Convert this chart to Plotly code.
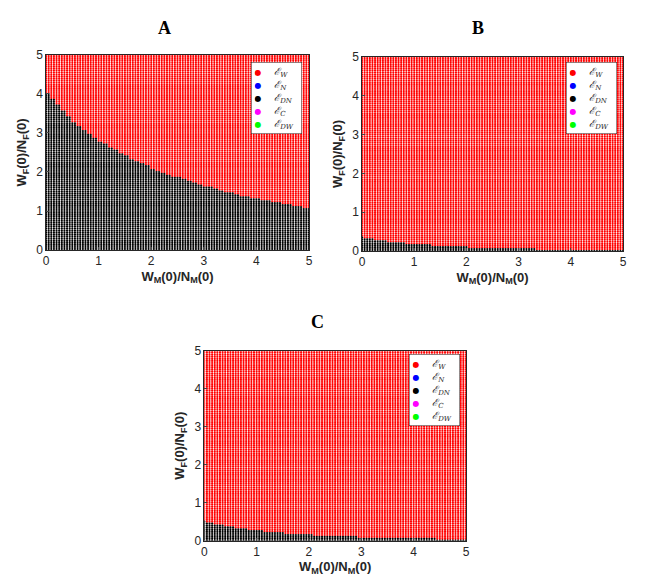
import numpy as np
import plotly.graph_objects as go

# sweep grid of initial ratios (both axes), step 0.05
grid = np.round(np.linspace(0, 5, 101), 2)

# panel A: upper edge of the black region, read every 0.1
a_break_x = [0.0, 0.1, 0.2, 0.3, 0.4, 0.5, 0.6, 0.7, 0.8, 0.9,
             1.0, 1.1, 1.2, 1.3, 1.4, 1.5, 1.6, 1.7, 1.8, 1.9,
             2.0, 2.1, 2.2, 2.3, 2.4, 2.5, 2.6, 2.7, 2.8, 2.9,
             3.0, 3.1, 3.2, 3.3, 3.4, 3.5, 3.6, 3.7, 3.8, 3.9,
             4.0, 4.1, 4.2, 4.3, 4.4, 4.5, 4.6, 4.7, 4.8, 4.9, 5.0]
a_top = [4.00, 3.85, 3.70, 3.55, 3.40, 3.25, 3.15, 3.05, 2.95, 2.85,
         2.75, 2.70, 2.60, 2.55, 2.45, 2.40, 2.30, 2.25, 2.20, 2.15,
         2.05, 2.00, 1.95, 1.90, 1.85, 1.85, 1.80, 1.75, 1.70, 1.65,
         1.60, 1.60, 1.55, 1.50, 1.45, 1.45, 1.40, 1.35, 1.35, 1.30,
         1.30, 1.25, 1.25, 1.20, 1.20, 1.15, 1.15, 1.10, 1.10, 1.05, 1.05]

# panel B: step edges
b_break_x = [0.0, 0.05, 0.25, 0.5, 0.85, 1.35, 2.05, 3.35]
b_top = [0.35, 0.30, 0.25, 0.20, 0.15, 0.10, 0.05, 0.0]

# panel C: step edges
c_break_x = [0.0, 0.05, 0.2, 0.4, 0.6, 0.85, 1.15, 1.55, 2.1, 2.95, 4.45]
c_top = [0.50, 0.45, 0.40, 0.35, 0.30, 0.25, 0.20, 0.15, 0.10, 0.05, 0.0]

legend_names = ["ℰ<sub>W</sub>", "ℰ<sub>N</sub>", "ℰ<sub>DN</sub>", "ℰ<sub>C</sub>", "ℰ<sub>DW</sub>"]
legend_colors = ["#ff0000", "#0000ff", "#000000", "#ff00ff", "#00ff00"]


def split_points(break_x, top):
    bx = np.array(break_x)
    bt = np.array(top)
    X, Y = np.meshgrid(grid, grid)
    idx = np.searchsorted(bx, X + 1e-9, side="right") - 1
    black = Y <= bt[idx] + 1e-9
    return (X[~black], Y[~black]), (X[black], Y[black])


fig = go.Figure()
panels = [(a_break_x, a_top, "x", "y"),
          (b_break_x, b_top, "x2", "y2"),
          (c_break_x, c_top, "x3", "y3")]

for bx, bt, xa, ya in panels:
    (rx, ry), (kx, ky) = split_points(bx, bt)
    fig.add_trace(go.Scatter(x=rx, y=ry, mode="markers", xaxis=xa, yaxis=ya,
                             marker=dict(color="#ff0000", size=2.2, line=dict(width=0)),
                             showlegend=False, hoverinfo="skip"))
    fig.add_trace(go.Scatter(x=kx, y=ky, mode="markers", xaxis=xa, yaxis=ya,
                             marker=dict(color="#000000", size=2.2, line=dict(width=0)),
                             showlegend=False, hoverinfo="skip"))

tickfont = dict(family="Liberation Sans", size=12, color="#262626")
titlefont = dict(family="Liberation Sans", size=13, color="#262626")


def xax(dom, anchor):
    return dict(domain=dom, anchor=anchor, range=[0, 5], tickvals=[0, 1, 2, 3, 4, 5],
                ticks="inside", ticklen=3, showgrid=False, zeroline=False, automargin=False,
                showline=True, mirror=True, linecolor="#262626", linewidth=0.5,
                tickfont=tickfont,
                title=dict(text="<b>W<sub>M</sub>(0)/N<sub>M</sub>(0)</b>", font=titlefont, standoff=4))


def yax(dom, anchor):
    return dict(domain=dom, anchor=anchor, range=[0, 5], tickvals=[0, 1, 2, 3, 4, 5],
                ticks="inside", ticklen=3, showgrid=False, zeroline=False, automargin=False,
                showline=True, mirror=True, linecolor="#262626", linewidth=0.5,
                tickfont=tickfont,
                title=dict(text="<b>W<sub>F</sub>(0)/N<sub>F</sub>(0)</b>", font=titlefont, standoff=6))


fig.update_layout(
    width=658, height=585,
    margin=dict(l=0, r=0, t=0, b=0, autoexpand=False),
    paper_bgcolor="white", plot_bgcolor="white",
    showlegend=False,
    xaxis=xax([0.0578, 0.4574], "y"), yaxis=yax([0.5863, 0.9197], "x"),
    xaxis2=xax([0.5380, 0.9347], "y2"), yaxis2=yax([0.5846, 0.9162], "x2"),
    xaxis3=xax([0.2983, 0.6960], "y3"), yaxis3=yax([0.0894, 0.4142], "x3"),
)

for txt, x, y in [("A", 0.2386, 0.9658), ("B", 0.7143, 0.9658), ("C", 0.4711, 0.4632)]:
    fig.add_annotation(text="<b>%s</b>" % txt, x=x, y=y, xref="paper", yref="paper",
                       xanchor="center", yanchor="middle", showarrow=False,
                       font=dict(family="Liberation Serif", size=18, color="black"))

# legend boxes (colour key for the regimes)
legend_text = "<br>".join(
    "<span style='color:%s;font-size:8px'>●</span>    <i>%s</i>" % (c, n)
    for n, c in zip(legend_names, legend_colors))
for x, y in [(0.4468, 0.9077), (0.9255, 0.9077), (0.6869, 0.4085)]:
    fig.add_annotation(text=legend_text, x=x, y=y, xref="paper", yref="paper",
                       xanchor="right", yanchor="top", align="left", showarrow=False,
                       bgcolor="white", bordercolor="#262626", borderwidth=0.5, borderpad=3,
                       width=44, font=dict(family="DejaVu Serif", size=10, color="#262626"))

fig.write_html("out.html")
